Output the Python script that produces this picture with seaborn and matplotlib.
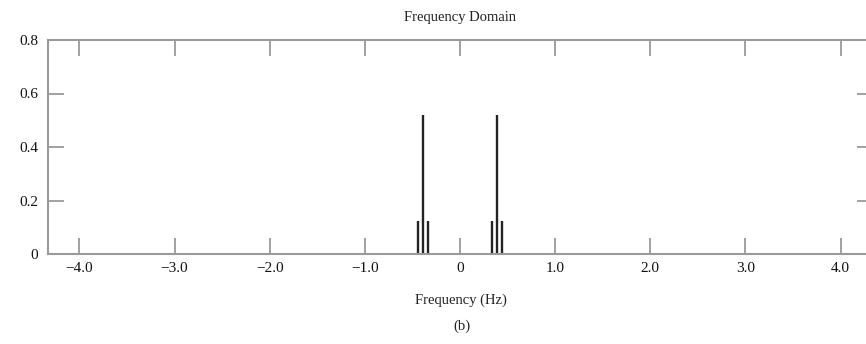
import numpy as np
import pandas as pd
import seaborn as sns
import matplotlib.pyplot as plt

# Spectrum of an AM signal: carrier lines at +/-0.39 Hz with small sidebands
freqs = [-0.44, -0.39, -0.34, 0.34, 0.39, 0.44]
amps = [0.125, 0.52, 0.125, 0.125, 0.52, 0.125]

xticks = [-4.0, -3.0, -2.0, -1.0, 0.0, 1.0, 2.0, 3.0, 4.0]
xtick_labels = ["\u22124.0", "\u22123.0", "\u22122.0", "\u22121.0", "0", "1.0", "2.0", "3.0", "4.0"]
yticks = [0, 0.2, 0.4, 0.6, 0.8]
ytick_labels = ["0", "0.2", "0.4", "0.6", "0.8"]

df = pd.DataFrame({"freq": freqs, "amp": amps})

sns.set_theme(style="ticks")
plt.rcParams["font.family"] = ["Liberation Serif", "DejaVu Serif"]

grey = "#9a9a9a"
fig = plt.figure(figsize=(8.66, 3.44), dpi=100)
# axes run slightly past the right edge, as in the cropped original
ax = fig.add_axes([48 / 866, 90 / 344, 825 / 866, 214 / 344])

ax.vlines(df["freq"], 0, df["amp"], color="#222222", linewidth=1.7)

ax.set_xlim(-4.33, 4.34)
ax.set_ylim(0, 0.8)
ax.set_xticks(xticks)
ax.set_xticklabels(xtick_labels)
ax.set_yticks(yticks)
ax.set_yticklabels(ytick_labels)

for sp in ax.spines.values():
    sp.set_color(grey)
    sp.set_linewidth(1.5)

ax.tick_params(axis="both", direction="in", length=11.5, width=1.3, color=grey,
               top=True, right=True, labelsize=11, labelcolor="#111111")
ax.tick_params(axis="x", pad=6)
ax.tick_params(axis="y", pad=7)

ax.set_title("Frequency Domain", fontsize=10.5, pad=14, color="#222222")
ax.set_xlabel("Frequency (Hz)", fontsize=10.5, labelpad=13, color="#222222")
fig.text(462 / 866, 1 - 326 / 344, "(b)", ha="center", va="center",
         fontsize=10.5, color="#222222")

fig.savefig("out.png", dpi=100)
